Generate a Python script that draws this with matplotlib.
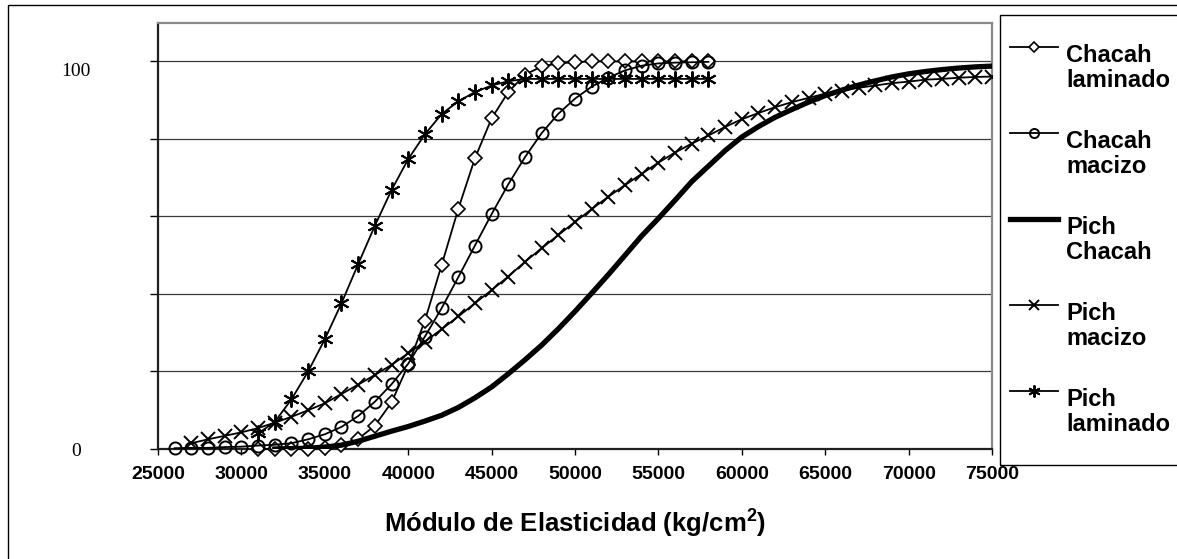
import numpy as np
import matplotlib
matplotlib.use('Agg')
from matplotlib import pyplot as plt
from matplotlib import transforms
from matplotlib.lines import Line2D
from matplotlib.patches import Rectangle

# x values (kg/cm2) and cumulative percentages
x_chacah_lam = np.arange(31000, 58001, 1000)
y_chacah_lam = [0, 0, 0, 0, 0.3, 1.0, 2.6, 6.0, 12.0, 21.7, 33.1, 47.4, 61.9, 75.0,
                85.3, 92.1, 96.6, 98.7, 99.5, 99.8, 100, 100, 100, 100, 100, 100, 100, 100]

x_chacah_mac = np.arange(26000, 58001, 1000)
y_chacah_mac = [0.2, 0.3, 0.3, 0.5, 0.6, 0.9, 1.1, 1.5, 2.5, 3.8, 5.7, 8.5, 12.2, 16.7,
                22.0, 29.0, 36.3, 44.3, 52.5, 60.6, 68.3, 75.3, 81.5, 86.5, 90.4, 93.5,
                95.8, 97.7, 98.9, 99.5, 99.7, 99.8, 99.9]

x_pich_chacah = np.arange(32000, 75001, 1000)
y_pich_chacah = [0.0, 0.1, 0.2, 0.5, 1.0, 2.0, 3.3, 4.6, 5.8, 7.2, 8.7, 10.7, 13.2, 16.0,
                 19.4, 23.0, 26.8, 31.0, 35.5, 40.2, 45.0, 50.0, 55.0, 59.5, 64.2, 69.0,
                 73.0, 77.0, 80.5, 83.2, 85.6, 87.6, 89.5, 91.2, 92.6, 93.9, 95.0, 96.0,
                 96.8, 97.4, 97.9, 98.3, 98.6, 98.8]

x_pich_mac = np.arange(27000, 75001, 1000)
y_pich_mac = [1.5, 2.5, 3.4, 4.3, 5.4, 6.8, 8.3, 10.0, 11.8, 14.2, 16.6, 19.1, 21.7, 24.7,
              27.7, 30.9, 34.2, 37.6, 41.0, 44.5, 48.3, 51.8, 55.2, 58.6, 61.9, 65.1, 68.1,
              71.0, 73.9, 76.5, 78.8, 80.9, 83.1, 85.1, 86.7, 88.2, 89.5, 90.6, 91.7, 92.5,
              93.2, 93.8, 94.4, 94.8, 95.3, 95.5, 95.8, 96.0, 96.1]

x_pich_lam = np.arange(31000, 58001, 1000)
y_pich_lam = [4.0, 7.0, 12.8, 20.0, 28.3, 37.6, 47.7, 57.6, 66.8, 74.8, 81.2, 86.4, 89.7,
              92.1, 93.8, 94.9, 95.5, 95.5, 95.5, 95.5, 95.5, 95.5, 95.5, 95.5, 95.5, 95.5,
              95.5, 95.5]

labels = ['Chacah\nlaminado', 'Chacah\nmacizo', 'Pich\nChacah', 'Pich\nmacizo', 'Pich\nlaminado']
xticks = np.arange(25000, 75001, 5000)
yticks = [0, 20, 40, 60, 80, 100]
ytick_labels = ['0', '', '', '', '', '100']

plt.rcParams['mathtext.fontset'] = 'custom'
plt.rcParams['mathtext.bf'] = 'Liberation Sans:bold'
plt.rcParams['mathtext.rm'] = 'Liberation Sans:bold'
plt.rcParams['mathtext.default'] = 'bf'

W, H = 1177, 559
fig = plt.figure(figsize=(W / 100, H / 100), dpi=100)

def fx(px):
    return px / W

def fy(py):
    return 1 - py / H

ax = fig.add_axes([fx(158), fy(449), fx(992) - fx(158), fy(22.7) - fy(449)])

star = (6, 2, 0)
styles = [
    dict(marker='D', ms=7.3, lw=1.3, mfc='white', mec='black', mew=1.2, clip_on=False),
    dict(marker='o', ms=8.7, lw=1.3, mfc='none', mec='black', mew=1.4, clip_on=False),
    dict(marker=None, lw=3.8, clip_on=True),
    dict(marker='x', ms=10, lw=1.3, mec='black', mew=1.4, clip_on=True),
    dict(marker=star, ms=11.5, lw=1.3, mec='black', mew=1.4, clip_on=False),
]
series = [(x_chacah_lam, y_chacah_lam), (x_chacah_mac, y_chacah_mac),
          (x_pich_chacah, y_pich_chacah), (x_pich_mac, y_pich_mac),
          (x_pich_lam, y_pich_lam)]

for (xs, ys), st, lab in zip(series, styles, labels):
    ax.plot(xs, ys, color='black', label=lab, zorder=3, **st)

ax.set_xlim(25000, 75000)
ax.set_ylim(0, 110)
ax.set_xticks(xticks)
ax.set_xticklabels([str(v) for v in xticks], fontfamily='Liberation Sans',
                   fontweight='bold', fontsize=14)
ax.set_yticks(yticks)
ax.set_yticklabels(ytick_labels, fontfamily='Liberation Serif', fontsize=14, ha='center')
ax.tick_params(axis='x', direction='out', length=4, width=1, pad=8)
ax.tick_params(axis='y', direction='out', length=6, width=1, pad=53)
ax.yaxis.grid(True, color='#3a3a3a', lw=0.9)
ax.set_axisbelow(True)

# the "100" label sits a little below its gridline in the original
top_lbl = ax.yaxis.get_major_ticks()[-1].label1
top_lbl.set_transform(top_lbl.get_transform() +
                      transforms.ScaledTranslation(0, -8 / 100, fig.dpi_scale_trans))

for side in ['left', 'bottom']:
    ax.spines[side].set_linewidth(1.6)
    ax.spines[side].set_color('#202020')
for side in ['top', 'right']:
    ax.spines[side].set_linewidth(1.6)
    ax.spines[side].set_color('#8a8a8a')

ax.set_xlabel('Módulo de Elasticidad (kg/cm$^{2}$)', fontfamily='Liberation Sans',
              fontweight='bold', fontsize=18.5, labelpad=18)

# outer chart border
fig.add_artist(Rectangle((fx(8), fy(600)), fx(1300), fy(5) - fy(600), transform=fig.transFigure,
                         fill=False, ec='black', lw=1.0))

# legend box (runs off the right edge as in the original)
fig.add_artist(Rectangle((fx(1000), fy(465)), fx(1300), fy(15) - fy(465),
                         transform=fig.transFigure, fill=False, ec='black', lw=1.0))
for i, (st, lab) in enumerate(zip(styles, labels)):
    yy = 47 + 86 * i
    kw = {k: v for k, v in st.items() if k != 'clip_on'}
    if kw.get('marker') is not None:
        kw['ms'] = kw['ms'] * 0.75
    fig.add_artist(Line2D([fx(1010), fx(1034), fx(1058)], [fy(yy)] * 3, color='black',
                          markevery=[1], transform=fig.transFigure, **kw))
    fig.text(fx(1066), fy(yy - 3), lab, fontfamily='Liberation Sans', fontweight='bold',
             fontsize=17, va='top', ha='left', linespacing=1.1)

fig.savefig('out.png', dpi=100)
